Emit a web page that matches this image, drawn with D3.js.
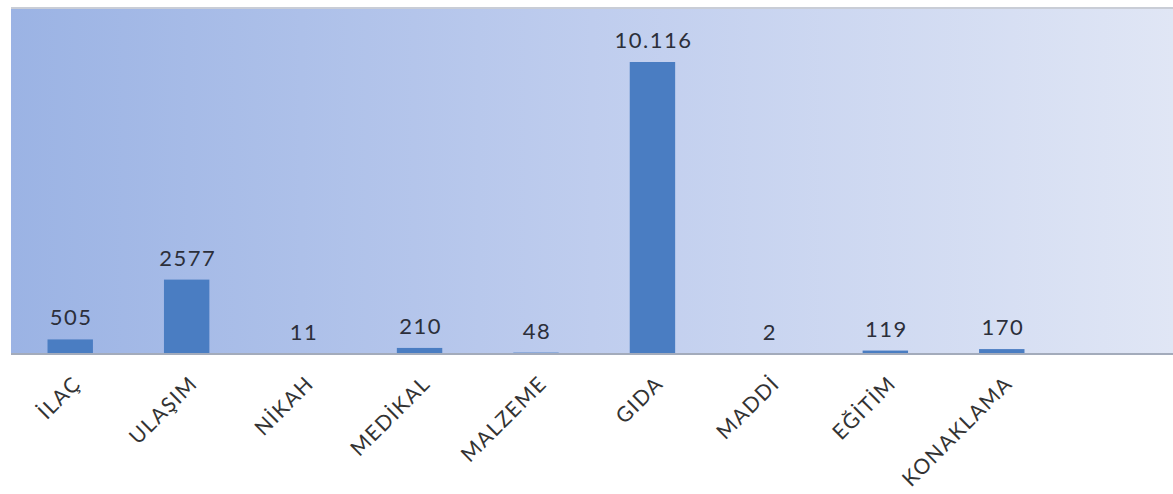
<!DOCTYPE html>
<html>
<head>
<meta charset="utf-8">
<script src="https://cdn.jsdelivr.net/npm/d3@7"></script>
<style>
  html, body { margin: 0; padding: 0; background: #ffffff; }
  svg { display: block; }
</style>
</head>
<body>
<svg id="chart" width="1173" height="494"></svg>
<script>
// Yardım türleri ve adetleri
const categories = ["İLAÇ", "ULAŞIM", "NİKAH", "MEDİKAL", "MALZEME", "GIDA", "MADDİ", "EĞİTİM", "KONAKLAMA"];
const values = [505, 2577, 11, 210, 48, 10116, 2, 119, 170];

const W = 1173, H = 494;
const panel = { left: 11, top: 8, right: 1173, bottom: 354 };

const svg = d3.select("#chart");
const defs = svg.append("defs");

// Plot area background: horizontal blue gradient
const grad = defs.append("linearGradient").attr("id", "bg").attr("x1", "0%").attr("x2", "100%").attr("y1", "0%").attr("y2", "0%");
grad.append("stop").attr("offset", "0%").attr("stop-color", "#9bb3e4");
grad.append("stop").attr("offset", "50%").attr("stop-color", "#bfcdee");
grad.append("stop").attr("offset", "100%").attr("stop-color", "#e0e6f5");

svg.append("rect")
  .attr("x", panel.left).attr("y", panel.top)
  .attr("width", panel.right - panel.left).attr("height", panel.bottom - panel.top)
  .attr("fill", "url(#bg)");

svg.append("line")
  .attr("x1", panel.left).attr("x2", panel.right)
  .attr("y1", panel.top).attr("y2", panel.top)
  .attr("stroke", "#c9cdd6").attr("stroke-width", 2);

const x = d3.scaleBand()
  .domain(categories)
  .range([12, 1060])
  .paddingInner(0.61)
  .paddingOuter(0.305);

const y = d3.scaleLinear()
  .domain([0, 10116])
  .range([panel.bottom, 62]);

// Bars
svg.append("g").selectAll("rect")
  .data(values)
  .join("rect")
  .attr("x", (d, i) => x(categories[i]))
  .attr("y", d => y(d))
  .attr("width", x.bandwidth())
  .attr("height", d => panel.bottom - y(d))
  .attr("fill", "#4a7dc2");

// Axis line
svg.append("line")
  .attr("x1", panel.left).attr("x2", panel.right)
  .attr("y1", panel.bottom).attr("y2", panel.bottom)
  .attr("stroke", "#a3abbb").attr("stroke-width", 2);

// Value labels: dot grouping only for five-digit numbers
const trLocale = d3.formatLocale({ decimal: ",", thousands: ".", grouping: [3], currency: ["", "₺"] });
const fmtGroup = trLocale.format(",d");
const fmtLabel = v => v >= 10000 ? fmtGroup(v) : String(v);

svg.append("g").selectAll("text")
  .data(values)
  .join("text")
  .attr("x", (d, i) => x(categories[i]) + x.bandwidth() / 2 + 1)
  .attr("y", d => y(d) - 14)
  .attr("text-anchor", "middle")
  .attr("font-family", "Lato, 'Open Sans', sans-serif")
  .attr("font-size", 22)
  .attr("letter-spacing", "1.5px")
  .attr("fill", "#2c2f3a")
  .text(fmtLabel);

// Category labels rotated -45°
const xAxis = d3.axisBottom(x).tickSize(0).tickPadding(0);
const gx = svg.append("g")
  .attr("transform", `translate(0,${panel.bottom})`)
  .call(xAxis);
gx.select(".domain").remove();
gx.selectAll("text")
  .attr("font-family", "Lato, 'Open Sans', sans-serif")
  .attr("font-size", 21)
  .attr("letter-spacing", "1.4px")
  .attr("fill", "#333333")
  .attr("text-anchor", "end")
  .attr("dx", 0)
  .attr("dy", 0)
  .attr("transform", "translate(12,31) rotate(-45)");
</script>
</body>
</html>
